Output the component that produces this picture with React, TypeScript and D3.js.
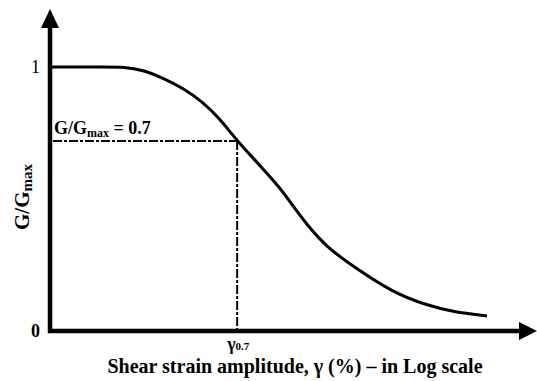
import React from "react";
import * as d3 from "d3";

// Shear strain amplitude γ (%) and normalized shear modulus G/Gmax
const strain = [0.0001, 0.000422, 0.000575, 0.00093, 0.0015, 0.00243, 0.00393, 0.0059, 0.0089, 0.0166, 0.0249, 0.0332, 0.0475, 0.0767, 0.124, 0.374, 0.845, 1.58, 3.56];
const modulusRatio = [1, 1, 1, 0.989, 0.958, 0.92, 0.867, 0.803, 0.72, 0.614, 0.542, 0.479, 0.402, 0.318, 0.261, 0.144, 0.098, 0.072, 0.057];
const refStrain = 0.0089;
const refRatio = 0.72;
const yTickValues = [0, 1];
const yTickLabels = ["0", "1"];

const W = 537;
const H = 381;

export default function App() {
  const x = d3.scaleLog().domain([0.0001, 10]).range([50, 530]);
  const y = d3.scaleLinear().domain([0, 1]).range([331, 67]);
  const pts: [number, number][] = strain.map((s, i) => [s, modulusRatio[i]]);
  const line = d3
    .line<[number, number]>()
    .x((d) => x(d[0]))
    .y((d) => y(d[1]))
    .curve(d3.curveBasis);
  const x0 = x.range()[0];
  const y0 = y(0);
  const font = "'Liberation Serif', 'Times New Roman', serif";
  const rx = x(refStrain);
  const ry = y(refRatio);
  const dash = "9,2,3,2";
  return (
    <svg width={W} height={H} style={{ position: "absolute", left: 0, top: 0, background: "#fff" }} fontFamily={font}>
      {/* reference dash-dot lines */}
      <line x1={x0 + 3} x2={rx} y1={ry} y2={ry} stroke="#000" strokeWidth={2} strokeDasharray={dash} />
      <line x1={rx} x2={rx} y1={ry} y2={y0} stroke="#000" strokeWidth={2} strokeDasharray={dash} />
      {/* curve */}
      <path d={line(pts) || ""} fill="none" stroke="#000" strokeWidth={3} strokeLinejoin="round" />
      {/* axes */}
      <line x1={x0} x2={x0} y1={y0 + 2} y2={26} stroke="#000" strokeWidth={4.5} />
      <path d={`M${x0},9 L${x0 - 9},28 L${x0 + 9},28 Z`} fill="#000" />
      <line x1={x0 - 2} x2={522} y1={y0} y2={y0} stroke="#000" strokeWidth={4.5} />
      <path d={`M537,${y0} L519,${y0 - 9} L519,${y0 + 9} Z`} fill="#000" />
      {/* y ticks */}
      {yTickValues.map((v, i) => (
        <text key={v} x={40} y={y(v)} dy="0.35em" textAnchor="end" fontSize={18} fontWeight={i === 0 ? "bold" : "normal"}>
          {yTickLabels[i]}
        </text>
      ))}
      {/* annotation */}
      <text x={x0 + 4} y={134} fontSize={18} fontWeight="bold">
        G/G<tspan fontSize={12} dy={3}>max</tspan>
        <tspan dy={-3}> = 0.7</tspan>
      </text>
      <text x={rx - 10} y={350} fontSize={18} fontWeight="bold">
        γ<tspan fontSize={11}>0.7</tspan>
      </text>
      {/* axis titles */}
      <text x={295} y={373} textAnchor="middle" fontSize={20} fontWeight="bold">
        Shear strain amplitude, γ (%) – in Log scale
      </text>
      <text transform="translate(29,197) rotate(-90)" textAnchor="middle" fontSize={21} fontWeight="bold">
        G/G<tspan fontSize={15} dy={3}>max</tspan>
      </text>
    </svg>
  );
}
